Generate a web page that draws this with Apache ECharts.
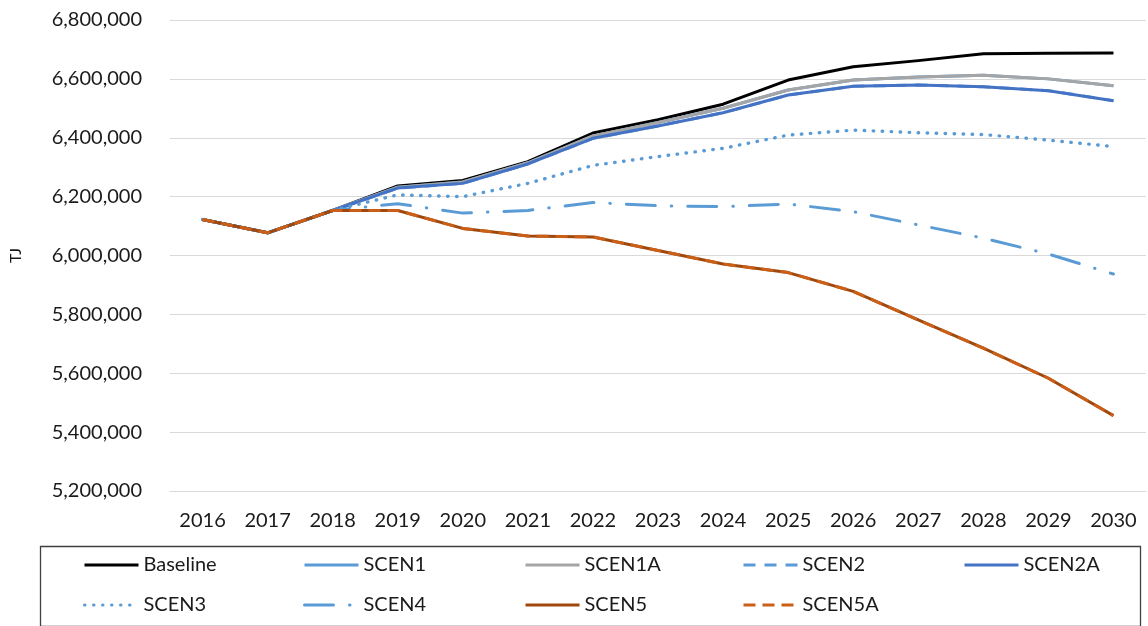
<!DOCTYPE html>
<html>
<head>
<meta charset="utf-8">
<script src="https://cdn.jsdelivr.net/npm/echarts@6/dist/echarts.min.js"></script>
<style>
html,body{margin:0;padding:0;background:#fff;}
#chart{width:1148px;height:626px;}
</style>
</head>
<body>
<div id="chart"></div>
<script>
const years = ['2016','2017','2018','2019','2020','2021','2022','2023','2024','2025','2026','2027','2028','2029','2030'];
const yTicks = {min: 5200000, max: 6800000, interval: 200000};
const baseline = [6122000,6077000,6153000,6236000,6255000,6319000,6416000,6461000,6514000,6596000,6641000,6662000,6685000,6687000,6688000];
const scen1    = [6122000,6077000,6153000,6232000,6250000,6315000,6406000,6452000,6500000,6562000,6596000,6606000,6612000,6600000,6577000];
const scen1a   = [6122000,6077000,6153000,6232000,6250000,6315000,6406000,6452000,6500000,6562000,6596000,6606000,6612000,6600000,6577000];
const scen2    = [6122000,6077000,6153000,6229000,6245000,6311000,6398000,6440000,6485000,6545000,6575000,6579000,6573000,6560000,6526000];
const scen2a   = [6122000,6077000,6153000,6229000,6245000,6311000,6398000,6440000,6485000,6545000,6575000,6579000,6573000,6560000,6526000];
const scen3    = [6122000,6077000,6153000,6206000,6200000,6245000,6306000,6336000,6364000,6409000,6426000,6417000,6411000,6392000,6370000];
const scen4    = [6122000,6077000,6153000,6176000,6144000,6153000,6180000,6169000,6166000,6175000,6149000,6104000,6059000,6005000,5937000];
const scen5    = [6122000,6077000,6153000,6153000,6092000,6066000,6063000,6017000,5971000,5942000,5878000,5781000,5685000,5583000,5456000];
const scen5a   = [6122000,6077000,6153000,6153000,6092000,6066000,6063000,6017000,5971000,5942000,5878000,5781000,5685000,5583000,5456000];

const FONT = 'Lato';
const TXT = '#1a1a1a';

const seriesDefs = [
  {name:'Baseline', data: baseline, color:'#000000', type:'solid'},
  {name:'SCEN1', data: scen1, color:'#5B9BD5', type:'solid'},
  {name:'SCEN1A', data: scen1a, color:'#A5A5A5', type:'solid'},
  {name:'SCEN2', data: scen2, color:'#5B9BD5', type:[12,9]},
  {name:'SCEN2A', data: scen2a, color:'#4472C4', type:'solid'},
  {name:'SCEN3', data: scen3, color:'#5B9BD5', type:[0.5,8.5], cap:'round', width:3.4},
  {name:'SCEN4', data: scen4, color:'#5B9BD5', type:[29,16,0.5,16], cap:'round'},
  {name:'SCEN5', data: scen5, color:'#9E480E', type:'solid'},
  {name:'SCEN5A', data: scen5a, color:'#CC5F17', type:[12,7]}
];

const colX = [83, 303, 524, 742, 963];
const rowY = [555, 595];
const legends = seriesDefs.map((s, i) => ({
  data: [s.name],
  left: colX[i < 5 ? i : i - 5],
  top: rowY[i < 5 ? 0 : 1],
  padding: 0,
  itemWidth: 54,
  itemHeight: 14,
  itemGap: 0,
  selectedMode: false,
  itemStyle: {opacity: 0},
  lineStyle: {width: 3, opacity: 1},
  textStyle: {fontFamily: FONT, fontSize: 20, color: TXT, padding: [0,0,0,0], lineHeight: 20}
}));

const chart = echarts.init(document.getElementById('chart'), null, {renderer:'canvas'});
chart.setOption({
  animation: false,
  backgroundColor: '#ffffff',
  grid: {left: 168, right: 2, top: 20, height: 471, containLabel: false},
  legend: legends,
  xAxis: {
    type: 'category',
    data: years,
    boundaryGap: true,
    axisLine: {show: true, lineStyle: {color: '#d9d9d9', width: 1}},
    axisTick: {show: false},
    axisLabel: {fontFamily: FONT, fontSize: 20, color: TXT, margin: 20}
  },
  yAxis: {
    type: 'value',
    min: yTicks.min, max: yTicks.max, interval: yTicks.interval,
    name: 'TJ',
    nameLocation: 'middle',
    nameGap: 146,
    nameRotate: 90,
    nameTextStyle: {fontFamily: FONT, fontSize: 16, color: TXT},
    axisLine: {show: false},
    axisTick: {show: false},
    splitLine: {lineStyle: {color: '#d9d9d9', width: 1}},
    axisLabel: {fontFamily: FONT, fontSize: 20, color: TXT, margin: 28,
      formatter: v => v.toLocaleString('en-US')}
  },
  graphic: [{
    type: 'rect', left: 38, top: 544,
    shape: {width: 1100, height: 80},
    style: {fill: 'none', stroke: '#404040', lineWidth: 1.3},
    silent: true
  }],
  series: seriesDefs.map(s => ({
    name: s.name,
    type: 'line',
    data: s.data,
    symbol: 'none',
    smooth: false,
    color: s.color,
    lineStyle: {color: s.color, width: s.width || 3, type: s.type, cap: s.cap || 'butt', join: 'round'},
    itemStyle: {color: s.color}
  }))
});
</script>
</body>
</html>
